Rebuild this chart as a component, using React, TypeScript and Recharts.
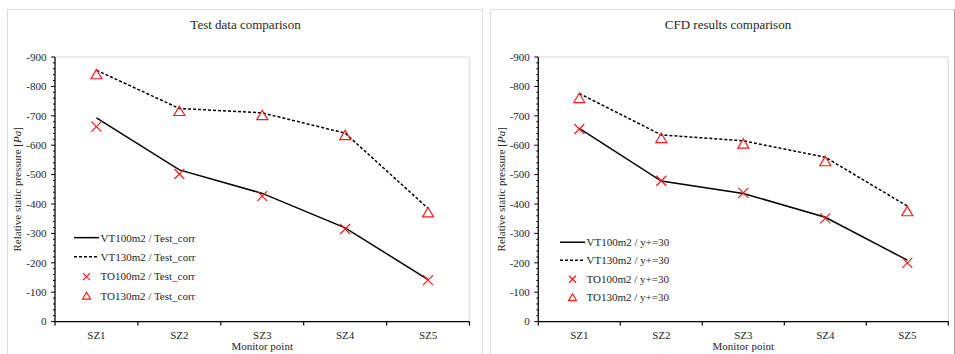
import { ComposedChart, Line, XAxis, YAxis, CartesianGrid, Legend } from 'recharts';

const FONT = '"Liberation Serif", "Times New Roman", serif';
const TEXT = '#262626';
const RED = '#ff1a1a';

const categories = ['SZ1', 'SZ2', 'SZ3', 'SZ4', 'SZ5'];

// Test data comparison (Pa, negative = suction)
const testVT100 = [-693, -516, -436, -319, -143];
const testVT130 = [-855, -725, -710, -641, -385];
const testTO100 = [-663, -502, -427, -315, -141];
const testTO130 = [-842, -717, -703, -635, -372];

// CFD results comparison
const cfdVT100 = [-657, -478, -436, -355, -209];
const cfdVT130 = [-776, -635, -615, -559, -393];
const cfdTO100 = [-655, -479, -438, -351, -200];
const cfdTO130 = [-761, -625, -606, -546, -376];

const testNames = ['VT100m2 / Test_corr', 'VT130m2 / Test_corr', 'TO100m2 / Test_corr', 'TO130m2 / Test_corr'];
const cfdNames = ['VT100m2 / y+=30', 'VT130m2 / y+=30', 'TO100m2 / y+=30', 'TO130m2 / y+=30'];

const yMajorTicks = [-900, -800, -700, -600, -500, -400, -300, -200, -100, 0];
const yGridTicks = [-800, -700, -600, -500, -400, -300, -200, -100];
const yAllTicks = Array.from({ length: 46 }, (_, i) => -900 + i * 20);

// categories sit at 1..n, band edges at the half steps
const xDomain = [0.5, categories.length + 0.5];
const xEdges = Array.from({ length: categories.length + 1 }, (_, i) => i + 0.5);
const xInnerEdges = xEdges.slice(1, -1);
const xAllTicks = [...xEdges, ...categories.map((_, i) => i + 1)].sort((a, b) => a - b);

const kinds = ['solid', 'dashed', 'cross', 'triangle'] as const;

function buildRows(vt100: number[], vt130: number[], to100: number[], to130: number[]) {
  return categories.map((c, i) => ({
    x: i + 1,
    name: c,
    vt100: vt100[i],
    vt130: vt130[i],
    to100: to100[i],
    to130: to130[i],
  }));
}

function XTick({ x, y, payload }: any) {
  const v = payload.value;
  if (Number.isInteger(v)) {
    return (
      <text x={x} y={y + 13.5} dy="0.35em" textAnchor="middle" fontSize={11} fontFamily={FONT} fill={TEXT}>
        {categories[v - 1]}
      </text>
    );
  }
  return <line x1={x} x2={x} y1={y} y2={y + 4} stroke="#000" strokeWidth={1.2} />;
}

function YTick({ x, y, payload }: any) {
  const v = payload.value;
  const major = v % 100 === 0;
  return (
    <g>
      <line x1={x - (major ? 4 : 2)} x2={x} y1={y} y2={y} stroke="#000" strokeWidth={1} />
      {major && (
        <text x={x - 8.5} y={y} dy="0.35em" textAnchor="end" fontSize={11} fontFamily={FONT} fill={TEXT}>
          {v}
        </text>
      )}
    </g>
  );
}

function Cross({ cx, cy, size = 5 }: { cx: number; cy: number; size?: number }) {
  return (
    <g stroke={RED} strokeWidth={1.2}>
      <line x1={cx - size} y1={cy - size} x2={cx + size} y2={cy + size} />
      <line x1={cx - size} y1={cy + size} x2={cx + size} y2={cy - size} />
    </g>
  );
}

function Triangle({ cx, cy, size = 5.5 }: { cx: number; cy: number; size?: number }) {
  const h = size * 1.7;
  return (
    <polygon
      points={`${cx},${cy - h / 2} ${cx - size},${cy + h / 2} ${cx + size},${cy + h / 2}`}
      fill="none"
      stroke={RED}
      strokeWidth={1.2}
    />
  );
}

function LegendBox({ names, rowH }: { names: string[]; rowH: number }) {
  return (
    <div style={{ background: '#fff', padding: '0 4px 0 4px' }}>
      {names.map((n, i) => {
        const k = kinds[i];
        const mid = rowH / 2;
        return (
          <div key={n} style={{ display: 'flex', alignItems: 'center', height: rowH }}>
            <svg width={25} height={rowH} style={{ display: 'block' }}>
              {k === 'solid' && <line x1={0} x2={25} y1={mid} y2={mid} stroke="#000" strokeWidth={1.5} />}
              {k === 'dashed' && (
                <line x1={0} x2={25} y1={mid} y2={mid} stroke="#000" strokeWidth={1.5} strokeDasharray="3 2" />
              )}
              {k === 'cross' && <Cross cx={12.5} cy={mid} size={3.5} />}
              {k === 'triangle' && <Triangle cx={12.5} cy={mid} size={4} />}
            </svg>
            <span style={{ fontFamily: FONT, fontSize: 11, color: TEXT, marginLeft: 1.5, whiteSpace: 'nowrap' }}>{n}</span>
          </div>
        );
      })}
    </div>
  );
}

const yLabel = ({ viewBox }: any) => {
  const cx = viewBox.x + viewBox.width - 37.5;
  const cy = viewBox.y + viewBox.height / 2;
  return (
    <text
      x={cx}
      y={cy}
      dy="0.35em"
      transform={`rotate(-90 ${cx} ${cy})`}
      textAnchor="middle"
      fontSize={11}
      fontFamily={FONT}
      fill={TEXT}
    >
      Relative static pressure [<tspan fontStyle="italic">Pa</tspan>]
    </text>
  );
};

const xLabel = ({ viewBox }: any) => (
  <text
    x={viewBox.x + viewBox.width / 2}
    y={viewBox.y + 25}
    dy="0.35em"
    textAnchor="middle"
    fontSize={11}
    fontFamily={FONT}
    fill={TEXT}
  >
    Monitor point
  </text>
);

interface PanelProps {
  rows: ReturnType<typeof buildRows>;
  names: string[];
  left: number;
  width: number;
  marginRight: number;
  axisWidth: number;
  legendLeft: number;
  legendTop: number;
  legendRow: number;
}

function Panel({ rows, names, left, width, marginRight, axisWidth, legendLeft, legendTop, legendRow }: PanelProps) {
  return (
    <div style={{ position: 'absolute', left, top: 0 }}>
      <ComposedChart width={width} height={354} data={rows} margin={{ top: 57, right: marginRight, bottom: 0, left: 0 }}>
        <XAxis
          xAxisId="frame"
          orientation="top"
          type="number"
          dataKey="x"
          domain={xDomain}
          ticks={xInnerEdges}
          tick={false}
          tickLine={false}
          height={0}
          axisLine={{ stroke: '#000', strokeWidth: 1.2 }}
        />
        <YAxis
          yAxisId="frame"
          orientation="right"
          type="number"
          domain={[-900, 0]}
          reversed
          ticks={yGridTicks}
          tick={false}
          tickLine={false}
          width={0}
          axisLine={{ stroke: '#000', strokeWidth: 1.2 }}
        />
        <CartesianGrid xAxisId="frame" yAxisId="frame" stroke="#e4e4e4" strokeWidth={1.5} />
        <XAxis
          type="number"
          dataKey="x"
          domain={xDomain}
          ticks={xAllTicks}
          interval={0}
          tick={<XTick />}
          tickLine={false}
          tickSize={0}
          tickMargin={0}
          height={32.4}
          axisLine={{ stroke: '#000', strokeWidth: 1.2 }}
          label={{ content: xLabel }}
        />
        <YAxis
          type="number"
          domain={[-900, 0]}
          reversed
          ticks={yAllTicks}
          interval={0}
          tick={<YTick />}
          tickLine={false}
          tickSize={0}
          tickMargin={0}
          width={axisWidth}
          axisLine={{ stroke: '#000', strokeWidth: 1.2 }}
          label={{ content: yLabel }}
        />
        <Legend
          layout="vertical"
          align="center"
          verticalAlign="middle"
          wrapperStyle={{ left: legendLeft, top: legendTop, width: 'auto', height: 'auto' }}
          content={() => <LegendBox names={names} rowH={legendRow} />}
        />
        <Line dataKey="vt100" name={names[0]} stroke="#000" strokeWidth={1.5} dot={false} activeDot={false} isAnimationActive={false} />
        <Line
          dataKey="vt130"
          name={names[1]}
          stroke="#000"
          strokeWidth={1.5}
          strokeDasharray="3 2"
          dot={false}
          activeDot={false}
          isAnimationActive={false}
        />
        <Line
          dataKey="to100"
          name={names[2]}
          stroke="none"
          activeDot={false}
          dot={(p: any) => <Cross key={`c${p.index}`} cx={p.cx} cy={p.cy} />}
          isAnimationActive={false}
        />
        <Line
          dataKey="to130"
          name={names[3]}
          stroke="none"
          activeDot={false}
          dot={(p: any) => <Triangle key={`t${p.index}`} cx={p.cx} cy={p.cy} />}
          isAnimationActive={false}
        />
      </ComposedChart>
    </div>
  );
}

const titleStyle = (center: number): React.CSSProperties => ({
  position: 'absolute',
  left: center - 150,
  width: 300,
  top: 17,
  textAlign: 'center',
  fontFamily: FONT,
  fontSize: 13,
  color: TEXT,
  lineHeight: '16px',
});

export default function App() {
  const testRows = buildRows(testVT100, testVT130, testTO100, testTO130);
  const cfdRows = buildRows(cfdVT100, cfdVT130, cfdTO100, cfdTO130);
  return (
    <div style={{ position: 'absolute', left: 0, top: 0, width: 955, height: 354, overflow: 'hidden', background: '#fff' }}>
      <div style={{ position: 'absolute', left: 7, top: 9, width: 474, height: 400, border: '1px solid #dcdcdc' }} />
      <div style={{ position: 'absolute', left: 490, top: 9, width: 463, height: 400, border: '1px solid #dcdcdc', borderRight: '2px solid #a8a8a8' }} />
      <div style={titleStyle(245.5)}>Test data comparison</div>
      <div style={titleStyle(728)}>CFD results comparison</div>
      <Panel
        rows={testRows}
        names={testNames}
        left={0}
        width={482}
        marginRight={12.5}
        axisWidth={55}
        legendLeft={70}
        legendTop={228}
        legendRow={19.3}
      />
      <Panel
        rows={cfdRows}
        names={cfdNames}
        left={483}
        width={472}
        marginRight={6.7}
        axisWidth={55.3}
        legendLeft={73}
        legendTop={232.5}
        legendRow={18.5}
      />
    </div>
  );
}
